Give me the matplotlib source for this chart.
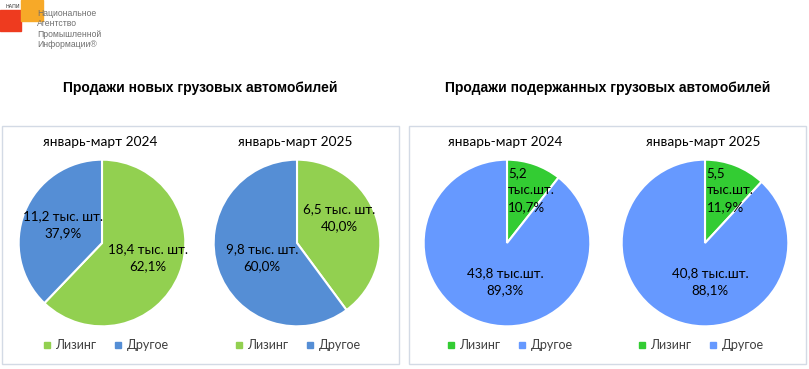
import matplotlib.pyplot as plt
from matplotlib.patches import Rectangle
from matplotlib.lines import Line2D

# data
panel_titles = ['Продажи новых грузовых автомобилей', 'Продажи подержанных грузовых автомобилей']
period_labels = ['январь-март 2024', 'январь-март 2025']
legend_labels = ['Лизинг', 'Другое']

new_leasing = [18.4, 6.5]
new_other = [11.2, 9.8]
new_leasing_pct = ['62,1%', '40,0%']
new_other_pct = ['37,9%', '60,0%']

used_leasing = [5.2, 5.5]
used_other = [43.8, 40.8]
used_leasing_pct = ['10,7%', '11,9%']
used_other_pct = ['89,3%', '88,1%']

new_colors = ['#92D050', '#558ED5']
used_colors = ['#33CC33', '#6699FF']

W, H = 809, 369
fig = plt.figure(figsize=(W / 100, H / 100), dpi=100)
FONT = 'Lato'


def fx(x):
    return x / W


def fy(y):
    return 1 - y / H


def num(v):
    return f'{v:.1f}'.replace('.', ',')


# logo
fig.patches.append(Rectangle((fx(0), fy(31)), fx(21), 21 / H, transform=fig.transFigure,
                             color='#EE3B1F', zorder=1))
fig.patches.append(Rectangle((fx(21), fy(21)), fx(22), 21 / H, transform=fig.transFigure,
                             color='#F7A928', zorder=1))
fig.text(fx(6), fy(7), 'НАПИ', fontsize=3.5, color='#333333', va='center', family='DejaVu Sans')
fig.text(fx(37), fy(9), 'Национальное\nАгентство\nПромышленной\nИнформации®', fontsize=6.2,
         color='#707070', va='top', ha='left', linespacing=1.2, family='Liberation Sans',
         zorder=3)

# panel boxes and titles
for x0, x1, title in [(2, 399, panel_titles[0]), (409, 806, panel_titles[1])]:
    fig.patches.append(Rectangle((fx(x0), fy(364)), fx(x1 - x0), (364 - 126) / H,
                                 transform=fig.transFigure, fill=False,
                                 edgecolor='#D3DAE5', linewidth=1.0))
    fig.text(fx((x0 + x1) / 2), fy(88), title, fontsize=10, fontweight='bold',
             ha='center', va='center', family='Liberation Sans')

R = 85
pies = [
    # center x, values, labels, colors, label positions, label alignment
    (102, [new_leasing[0], new_other[0]],
     [f'{num(new_leasing[0])} тыс. шт.\n{new_leasing_pct[0]}', f'{num(new_other[0])} тыс. шт.\n{new_other_pct[0]}'],
     new_colors, [(0.55, -0.18), (-0.47, 0.22)], ['center', 'center']),
    (297, [new_leasing[1], new_other[1]],
     [f'{num(new_leasing[1])} тыс. шт.\n{new_leasing_pct[1]}', f'{num(new_other[1])} тыс. шт.\n{new_other_pct[1]}'],
     new_colors, [(0.51, 0.30), (-0.42, -0.18)], ['center', 'center']),
    (507, [used_leasing[0], used_other[0]],
     [f'{num(used_leasing[0])}\nтыс.шт.\n{used_leasing_pct[0]}', f'{num(used_other[0])} тыс.шт.\n{used_other_pct[0]}'],
     used_colors, [(0.01, 0.64), (-0.02, -0.46)], ['left', 'center']),
    (705, [used_leasing[1], used_other[1]],
     [f'{num(used_leasing[1])}\nтыс.шт.\n{used_leasing_pct[1]}', f'{num(used_other[1])} тыс.шт.\n{used_other_pct[1]}'],
     used_colors, [(0.02, 0.64), (0.06, -0.46)], ['left', 'center']),
]
legend_centers = [106, 298, 510, 701]
cy = 243

for i, (cx, vals, labels, colors, pos, aligns) in enumerate(pies):
    ax = fig.add_axes([fx(cx - R), fy(cy + R), 2 * R / W, 2 * R / H])
    ax.pie(vals, colors=colors, startangle=90, counterclock=False, radius=1,
           wedgeprops=dict(edgecolor='white', linewidth=1.5))
    ax.set_xlim(-1.02, 1.02)
    ax.set_ylim(-1.02, 1.02)
    ax.set_aspect('equal')
    ax.axis('off')
    for lab, (px, py), al in zip(labels, pos, aligns):
        ax.text(px, py, lab, ha=al, va='center', fontsize=9.6, family=FONT,
                linespacing=1.5, multialignment=al, color='#000000')
    fig.text(fx(cx - 2), fy(142), period_labels[i % 2], fontsize=9.8, family=FONT,
             ha='center', va='center')
    handles = [Line2D([], [], marker='s', linestyle='none', markersize=5,
                      color=c) for c in colors]
    fig.legend(handles, legend_labels, loc='center',
               bbox_to_anchor=(fx(legend_centers[i]), fy(345)), ncol=2, frameon=False,
               prop=dict(family=FONT, size=9), handlelength=0.6, handletextpad=0.4,
               columnspacing=1.4, labelcolor='#404040')

plt.savefig('out.png', dpi=100)
